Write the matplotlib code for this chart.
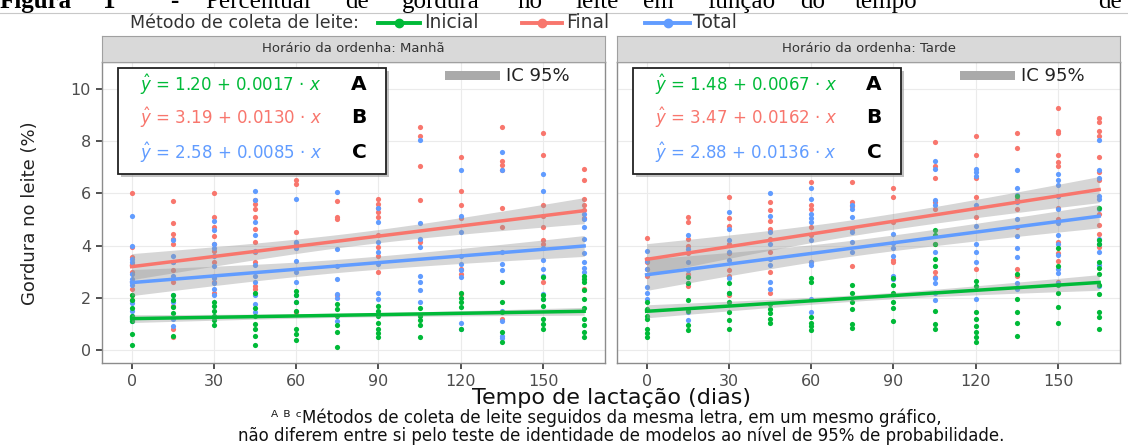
import numpy as np
import matplotlib
matplotlib.use("Agg")
import matplotlib.pyplot as plt
from matplotlib.patches import Rectangle
from matplotlib.lines import Line2D

plt.rcParams['font.family'] = ['DejaVu Sans']

# days of lactation (columns of points)
dias = [0, 15, 30, 45, 60, 75, 90, 105, 120, 135, 150, 165]

# fat (%), one list per day
manha_inicial = [[2.1, 1.9, 1.6, 1.3, 1.1, 0.6, 0.2], [2.1, 1.9, 1.65, 1.4, 0.55],
                 [1.85, 1.7, 1.5, 1.3, 1.15, 0.95], [2.2, 1.6, 1.3, 1.0, 0.8, 0.55, 0.2],
                 [2.25, 2.1, 1.85, 1.5, 0.8, 0.6, 0.4], [1.75, 1.55, 1.3, 0.95, 0.7, 0.1],
                 [1.7, 1.5, 1.3, 1.05, 0.8, 0.65, 0.5], [1.6, 1.3, 1.15, 0.95, 0.5],
                 [2.2, 2.0, 1.85, 1.65, 0.8], [2.6, 1.85, 1.45, 0.7, 0.3],
                 [2.8, 2.1, 1.95, 1.7, 1.2, 1.0, 0.8],
                 [2.85, 2.7, 2.6, 2.3, 1.95, 1.6, 1.2, 0.95, 0.7, 0.5]]
manha_final = [[6.0, 3.95, 3.55, 3.3, 3.0, 2.6, 2.35, 2.1, 1.9],
               [5.7, 4.85, 4.45, 4.25, 4.05, 3.35, 3.05, 2.6, 1.7, 0.8, 0.5],
               [6.0, 5.1, 4.7, 4.35, 4.05, 3.8, 3.35, 2.85, 2.6, 2.2],
               [5.75, 5.6, 5.4, 5.1, 4.65, 4.15, 3.75, 3.35, 2.45, 2.35],
               [6.5, 6.35, 4.5, 4.1, 3.9, 1.45], [5.7, 5.1, 5.0, 2.1],
               [5.8, 5.6, 5.45, 5.3, 5.1, 4.4, 3.95, 3.6, 3.0], [8.55, 8.2, 7.05, 5.75, 4.15],
               [7.4, 6.1, 5.55, 5.05, 3.1, 2.9, 2.15], [8.55, 7.25, 7.1, 6.9, 5.45, 4.7, 1.2],
               [8.3, 7.45, 5.55, 5.15, 4.7, 4.2, 4.05, 2.6],
               [6.95, 6.5, 5.8, 5.55, 5.35, 5.05, 2.35]]
manha_total = [[5.15, 4.0, 3.5, 3.35, 2.9, 2.7, 2.5, 1.8, 1.5, 1.3, 1.1],
               [4.2, 3.6, 3.35, 2.85, 2.1, 1.85, 1.2, 0.9],
               [4.95, 4.6, 4.05, 3.9, 3.6, 3.2, 2.75, 2.55, 2.35, 2.1],
               [6.1, 5.75, 4.9, 4.4, 3.8, 3.25, 2.85, 2.6, 2.1, 1.75, 1.45],
               [5.8, 4.15, 3.9, 3.4, 3.0, 2.6, 2.1, 1.85], [6.05, 3.85, 3.2, 2.7, 2.15, 2.0, 1.1],
               [5.45, 4.9, 4.15, 3.75, 3.3, 2.2, 1.95], [8.05, 4.85, 4.25, 3.95, 2.85, 2.6, 2.3, 1.85],
               [6.9, 5.15, 4.5, 3.6, 3.3, 3.05, 2.8, 1.05, 0.8],
               [7.6, 6.9, 3.75, 3.3, 3.05, 1.5, 1.1, 0.55, 0.45],
               [6.75, 6.1, 3.9, 3.45, 3.1, 2.85, 2.15, 1.95],
               [5.2, 5.0, 4.7, 4.25, 3.7, 3.35, 3.15, 3.0]]

tarde_inicial = [[1.85, 1.55, 1.3, 1.2, 0.8, 0.65, 0.5], [2.8, 2.55, 1.9, 1.5, 0.95, 0.75],
                 [2.55, 2.2, 1.85, 1.45, 1.15, 0.8], [1.75, 1.55, 1.4, 1.2, 1.05],
                 [2.75, 2.6, 1.25, 1.05, 0.9, 0.75], [2.5, 2.2, 1.85, 1.55, 1.0, 0.85],
                 [2.75, 2.5, 2.2, 1.85, 1.6, 1.1], [4.6, 4.4, 4.05, 3.5, 3.2, 1.5, 1.0, 0.8],
                 [2.65, 2.45, 1.45, 1.2, 0.9, 0.7, 0.5, 0.3], [5.9, 2.9, 1.95, 1.45, 1.05, 0.55],
                 [3.9, 3.2, 2.5, 2.2, 1.65, 1.05],
                 [5.45, 4.2, 4.05, 3.35, 3.15, 2.9, 2.5, 2.15, 1.45, 1.25, 0.8]]
tarde_final = [[4.3, 3.5, 3.35, 3.1, 2.85], [5.1, 4.9, 4.25, 4.0, 3.7, 2.9, 2.45],
               [5.85, 5.05, 4.75, 4.05, 3.7, 3.05, 2.85, 2.1],
               [5.65, 5.35, 4.95, 4.65, 4.25, 3.75, 3.0, 2.2],
               [6.45, 5.55, 5.4, 4.7, 4.4, 3.35], [6.45, 5.65, 5.5, 4.65, 3.2],
               [6.2, 5.85, 4.9, 3.45, 3.35], [7.95, 7.05, 6.6, 5.65, 5.4, 4.05, 3.0, 2.8],
               [8.2, 7.45, 6.6, 5.85, 5.1, 3.1], [8.3, 7.75, 5.8, 5.4, 4.7, 3.1, 2.85],
               [9.25, 8.4, 8.3, 7.45, 7.2, 7.05, 5.9, 5.45, 5.0, 4.15, 3.7, 3.4, 2.6],
               [8.9, 8.75, 8.4, 8.2, 7.4, 6.8, 6.5, 5.2, 4.8, 4.45, 3.95]]
tarde_total = [[3.8, 3.4, 3.1, 2.4, 2.2, 1.95], [4.4, 3.85, 3.35, 3.05, 2.55, 1.45, 1.15],
               [5.3, 4.65, 4.2, 3.75, 3.45, 2.75, 2.2],
               [6.0, 5.15, 4.5, 4.05, 3.5, 3.25, 2.6, 2.35],
               [6.2, 5.8, 5.2, 5.05, 4.9, 4.2, 3.35, 3.25, 1.95, 1.45],
               [5.55, 5.4, 5.1, 4.5, 4.15, 3.75], [4.45, 4.1, 3.9, 3.6, 2.85, 2.7],
               [7.25, 6.95, 5.75, 5.55, 3.75, 2.75, 2.55, 2.2, 1.9],
               [6.95, 6.8, 6.65, 5.55, 4.75, 4.05, 3.75, 3.35, 1.95],
               [6.9, 6.2, 5.95, 5.65, 5.0, 4.35, 3.9, 3.55, 2.55, 2.35],
               [6.75, 6.5, 6.3, 5.9, 5.4, 4.85, 4.4, 4.05, 3.65, 3.1, 2.95, 2.55],
               [8.05, 6.9, 6.6, 5.9, 5.8, 5.4, 4.25, 4.05, 3.75, 3.25, 2.45]]

# fitted models (intercept, slope) as printed in the panels
coef_manha = {'Inicial': (1.20, 0.0017), 'Final': (3.19, 0.0130), 'Total': (2.58, 0.0085)}
coef_tarde = {'Inicial': (1.48, 0.0067), 'Final': (3.47, 0.0162), 'Total': (2.88, 0.0136)}
# half width of the 95% band at day 0, mid range and day 165
ic_manha = {'Inicial': (0.15, 0.08, 0.15), 'Final': (0.5, 0.25, 0.5), 'Total': (0.5, 0.25, 0.4)}
ic_tarde = {'Inicial': (0.25, 0.12, 0.3), 'Final': (0.6, 0.3, 0.5), 'Total': (0.6, 0.3, 0.45)}
letras = {'Inicial': 'A', 'Final': 'B', 'Total': 'C'}

cores = {'Inicial': '#00BA38', 'Final': '#F8766D', 'Total': '#619CFF'}
metodos = ['Inicial', 'Final', 'Total']

W, H = 1128, 445
def fx(px):
    return px / W
def fy(py):
    return 1 - py / H

fig = plt.figure(figsize=(W / 100, H / 100), dpi=100)


def painel(x0, pontos, coefs, ics, titulo, first):
    ax = fig.add_axes([fx(x0), fy(363), 503 / W, 301 / H])
    ax.set_xlim(-10.8, 172.6)
    ax.set_ylim(-0.5, 11.03)
    ax.set_xticks([0, 30, 60, 90, 120, 150])
    ax.set_yticks([0, 2, 4, 6, 8, 10])
    ax.grid(True, color='#EBEBEB', lw=0.8, zorder=0)
    ax.set_axisbelow(True)
    for s in ax.spines.values():
        s.set_color('#8C8C8C')
        s.set_linewidth(1.0)
    ax.tick_params(colors='#333333', labelcolor='#4D4D4D', length=4, width=1.2,
                   labelsize=11.5, pad=4)
    if not first:
        ax.tick_params(axis='y', left=False, labelleft=False)

    # points: red, blue, then green on top
    for m in ['Final', 'Total', 'Inicial']:
        xs, ys = [], []
        for d, vals in zip(dias, pontos[m]):
            xs += [d] * len(vals)
            ys += vals
        ax.scatter(xs, ys, s=14, color=cores[m], lw=0, zorder=2)

    xx = np.linspace(0, 165, 100)
    for m in metodos:
        a, b = coefs[m]
        e0, mid, e1 = ics[m]
        yy = a + b * xx
        t = (xx - 82.5) / 82.5
        end = np.where(t < 0, e0, e1)
        hw = np.sqrt(mid ** 2 + (end ** 2 - mid ** 2) * t ** 2)
        ax.fill_between(xx, yy - hw, yy + hw, color='#999999', alpha=0.4, lw=0, zorder=3)
    for m in metodos:
        a, b = coefs[m]
        ax.plot(xx, a + b * xx, color=cores[m], lw=2.5, zorder=4)

    # equations box with shadow
    ax.add_patch(Rectangle((0.038, 0.618), 0.533, 0.352, transform=ax.transAxes,
                           facecolor='#9A9A9A', edgecolor='none', alpha=0.6, zorder=5))
    ax.add_patch(Rectangle((0.032, 0.628), 0.533, 0.352, transform=ax.transAxes,
                           facecolor='white', edgecolor='#222222', lw=1.3, zorder=6))
    for m, yt in zip(metodos, [0.924, 0.814, 0.698]):
        a, b = coefs[m]
        ax.text(0.075, yt, r'$\hat{y}$' + f' = {a:.2f} + {b:.4f} · ' + r'$x$',
                transform=ax.transAxes, color=cores[m], fontsize=12,
                va='center', ha='left', zorder=7)
        ax.text(0.511, yt, letras[m], transform=ax.transAxes, color='black',
                fontsize=14.5, fontweight='bold', va='center', ha='center', zorder=7)

    # IC 95% key
    ax.add_patch(Rectangle((0.682, 0.940), 0.11, 0.03, transform=ax.transAxes,
                           facecolor='#AAAAAA', edgecolor='none', zorder=6))
    ax.text(0.803, 0.955, 'IC 95%', transform=ax.transAxes, fontsize=13,
            color='#222222', va='center', ha='left', zorder=7)

    # facet strip
    st = fig.add_axes([fx(x0), fy(62), 503 / W, 26 / H])
    st.set_facecolor('#D9D9D9')
    st.set_xticks([])
    st.set_yticks([])
    for s in st.spines.values():
        s.set_color('#A0A0A0')
    st.text(0.5, 0.5, titulo, ha='center', va='center', fontsize=9.5,
            color='#333333', transform=st.transAxes)
    return ax


painel(102, {'Inicial': manha_inicial, 'Final': manha_final, 'Total': manha_total},
       coef_manha, ic_manha, 'Horário da ordenha: Manhã', True)
painel(617, {'Inicial': tarde_inicial, 'Final': tarde_final, 'Total': tarde_total},
       coef_tarde, ic_tarde, 'Horário da ordenha: Tarde', False)

# y label
fig.text(fx(30), fy(213), 'Gordura no leite (%)', rotation=90, ha='center', va='center',
         fontsize=13, color='#222222', family=['Liberation Sans Narrow', 'DejaVu Sans'])
# x label
fig.text(fx(612), fy(398), 'Tempo de lactação (dias)', ha='center', va='center',
         fontsize=16, color='#111111')

# top legend
fig.text(fx(130), fy(23), 'Método de coleta de leite:', ha='left', va='center',
         fontsize=12.5, color='#333333')
for m, (l0, l1, tx) in zip(metodos, [(378, 420, 424), (522, 562, 566), (645, 690, 693)]):
    fig.add_artist(Line2D([fx(l0), fx(l1)], [fy(23), fy(23)], color=cores[m], lw=2.8))
    fig.add_artist(Line2D([fx((l0 + l1) / 2)], [fy(23)], color=cores[m], marker='o',
                          markersize=6))
    fig.text(fx(tx), fy(23), m, ha='left', va='center', fontsize=13.5, color='#333333')

# caption at the top, partly cut like in the source page
fig.add_artist(Line2D([0, 1], [fy(12.5), fy(12.5)], color='#C8C8C8', lw=0.8))
palavras = [('Figura', 0, 'bold'), ('1', 103, 'bold'), ('-', 170, 'bold'),
            ('Percentual', 205, 'normal'), ('de', 345, 'normal'), ('gordura', 402, 'normal'),
            ('no', 517, 'normal'), ('leite', 575, 'normal'), ('em', 643, 'normal'),
            ('função', 707, 'normal'), ('do', 800, 'normal'), ('tempo', 855, 'normal'),
            ('de', 1098, 'normal')]
for w, px, wt in palavras:
    fig.text(fx(px), fy(8), w, ha='left', va='baseline', fontsize=18, fontweight=wt,
             family='Liberation Serif', color='black')

# footnote
fig.text(fx(606), fy(418), 'ᴬ ᴮ ᶜMétodos de coleta de leite seguidos da mesma letra, em um mesmo gráfico,',
         ha='center', va='center', fontsize=12, color='#111111')
fig.text(fx(621), fy(436), 'não diferem entre si pelo teste de identidade de modelos ao nível de 95% de probabilidade.',
         ha='center', va='center', fontsize=12, color='#111111')

fig.savefig('out.png', dpi=100)
